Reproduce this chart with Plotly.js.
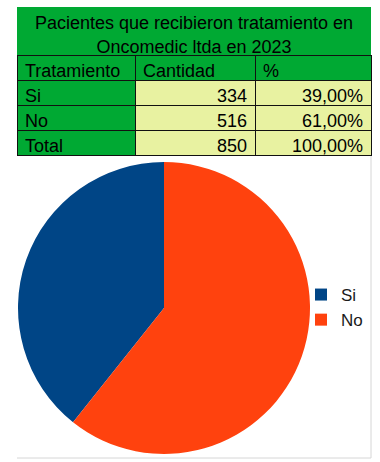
<!DOCTYPE html>
<html>
<head>
<meta charset="utf-8">
<script src="https://cdn.plot.ly/plotly-3.0.1.min.js"></script>
<style>html,body{margin:0;padding:0;background:#fff;}#chart{width:380px;height:462px;}</style>
</head>
<body>
<div id="chart"></div>
<script>
// Data
var tableTitleLine1 = "Pacientes que recibieron tratamiento en";
var tableTitleLine2 = "Oncomedic ltda en 2023";
var headers = ["Tratamiento", "Cantidad", "%"];
var categories = ["Si", "No"];
var cantidad = [334, 516];
var totalLabel = "Total";
var totalCantidad = 850;
var porcentajes = ["39,00%", "61,00%"];
var totalPorcentaje = "100,00%";

var W = 380, H = 462;
function px(x) { return x / W; }
function py(y) { return 1 - y / H; }

var GREEN = "#00a933", YELLOW = "#e8f2a1";
var FONT = "Liberation Sans, Arial, sans-serif";

var col1 = categories.concat([totalLabel]);
var col2 = cantidad.concat([totalCantidad]);
var col3 = porcentajes.concat([totalPorcentaje]);

var titleTable = {
  type: "table",
  domain: {x: [px(17), px(371)], y: [py(60), py(7)]},
  columnwidth: [1],
  header: {
    values: [tableTitleLine1],
    align: "center",
    height: 24,
    fill: {color: GREEN},
    line: {color: GREEN, width: 0},
    font: {family: FONT, size: 18, color: "#000"}
  },
  cells: {
    values: [[tableTitleLine2]],
    align: "center",
    height: 24,
    fill: {color: GREEN},
    line: {color: GREEN, width: 0},
    font: {family: FONT, size: 18, color: "#000"}
  }
};

var dataTable = {
  type: "table",
  domain: {x: [px(17), px(371)], y: [py(162), py(55)]},
  columnwidth: [118, 120, 116],
  header: {
    values: headers,
    align: "left",
    height: 25,
    fill: {color: GREEN},
    line: {color: "#111", width: 1},
    font: {family: FONT, size: 18, color: "#000"}
  },
  cells: {
    values: [col1, col2, col3],
    align: ["left", "right", "right"],
    height: 25,
    fill: {color: [[GREEN, GREEN, GREEN], [YELLOW, YELLOW, YELLOW], [YELLOW, YELLOW, YELLOW]]},
    line: {color: "#111", width: 1},
    font: {family: FONT, size: 18, color: "#000"}
  }
};

var total = cantidad.reduce(function (a, b) { return a + b; }, 0);
var pie = {
  type: "pie",
  labels: categories,
  values: cantidad,
  sort: false,
  direction: "clockwise",
  rotation: -360 * cantidad[0] / total,
  textinfo: "none",
  hoverinfo: "skip",
  marker: {colors: ["#004586", "#ff420e"], line: {width: 0}},
  domain: {x: [px(18), px(310)], y: [py(454), py(162)]}
};

var layout = {
  width: W, height: H,
  margin: {l: 0, r: 0, t: 0, b: 0},
  paper_bgcolor: "#fff",
  showlegend: true,
  legend: {
    x: px(301), xanchor: "left",
    y: py(277), yanchor: "top",
    font: {family: FONT, size: 17, color: "#1a1a1a"},
    bgcolor: "rgba(0,0,0,0)"
  },
  shapes: [
    {type: "line", xref: "paper", yref: "paper", x0: px(371), x1: px(371), y0: py(458), y1: py(156), line: {color: "#d6d6d6", width: 1}},
    {type: "line", xref: "paper", yref: "paper", x0: px(17), x1: px(371), y0: py(458), y1: py(458), line: {color: "#d6d6d6", width: 1}}
  ]
};

Plotly.newPlot("chart", [titleTable, dataTable, pie], layout, {displayModeBar: false});
</script>
</body>
</html>
